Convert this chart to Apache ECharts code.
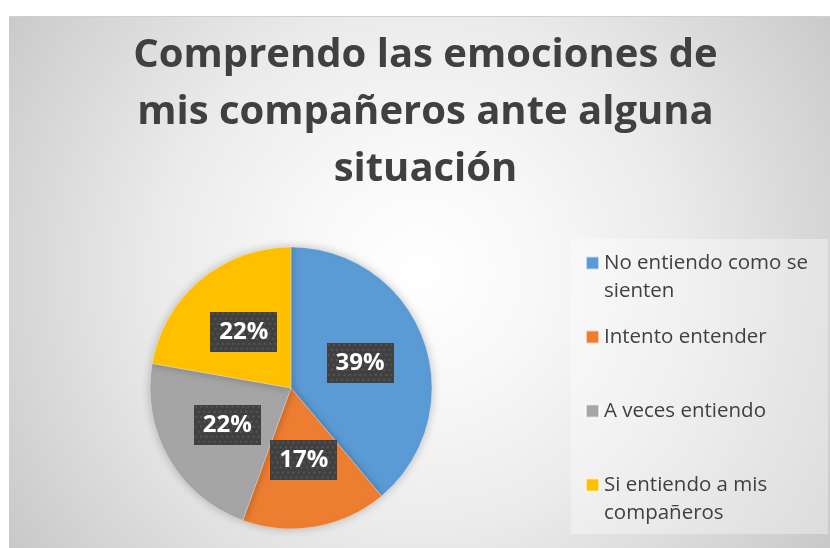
<!DOCTYPE html>
<html>
<head>
<meta charset="utf-8">
<script src="https://cdn.jsdelivr.net/npm/echarts@6/dist/echarts.min.js"></script>
<style>
  html, body { margin: 0; padding: 0; background: #ffffff; }
  body { width: 830px; height: 548px; position: relative; overflow: hidden; }
  #chart {
    position: absolute; left: 9px; top: 16px; width: 821px; height: 532px;
    border-top: 1px solid #d0d0d0; box-sizing: border-box;
    background: radial-gradient(circle 540px at 50% 48%, #ffffff 0%, #f8f8f8 22%, #ebebeb 48%, #d5d5d5 76%, #c8c8c8 92%, #c4c4c4 100%);
  }
</style>
</head>
<body>
<div id="chart"></div>
<script>
// datos de la encuesta
const categorias = ['No entiendo como se sienten', 'Intento entender', 'A veces entiendo', 'Si entiendo a mis compañeros'];
const textoLeyenda = ['No entiendo como se\nsienten', 'Intento entender', 'A veces entiendo', 'Si entiendo a mis\ncompañeros'];
const valores = [7, 3, 4, 4];
const colores = ['#5B9BD5', '#ED7D31', '#A5A5A5', '#FFC000'];
const titulo = 'Comprendo las emociones de\nmis compañeros ante alguna\nsituación';

// fondo punteado de las etiquetas
function patronEtiqueta() {
  const c = document.createElement('canvas');
  c.width = 64; c.height = 40;
  const ctx = c.getContext('2d');
  ctx.fillStyle = '#404040';
  ctx.fillRect(0, 0, 64, 40);
  ctx.fillStyle = '#555555';
  for (let y = 1; y < 40; y += 5) {
    for (let x = (y % 10 === 1 ? 1 : 3.5); x < 64; x += 5) {
      ctx.fillRect(Math.round(x), y, 2, 2);
    }
  }
  return c;
}

const chart = echarts.init(document.getElementById('chart'));

chart.setOption({
  backgroundColor: 'transparent',
  graphic: [{
    // título (centrado un poco a la derecha del centro del lienzo)
    type: 'text',
    x: 416.5,
    y: 10,
    silent: true,
    style: {
      text: titulo,
      align: 'center',
      verticalAlign: 'top',
      fontFamily: 'Open Sans',
      fontWeight: 'bold',
      fontSize: 40,
      lineHeight: 57,
      fill: '#404040'
    }
  }, {
    type: 'rect',
    shape: { x: 562, y: 222, width: 257, height: 295 },
    style: { fill: 'rgba(255,255,255,0.35)' },
    silent: true
  }],
  legend: {
    orient: 'vertical',
    left: 576,
    top: 204,
    padding: 0,
    itemGap: -10,
    itemWidth: 13,
    itemHeight: 13,
    icon: 'rect',
    selectedMode: false,
    // tres renglones por entrada: el texto principal queda en el centro, junto al cuadro
    formatter: function (name) {
      const t = textoLeyenda[categorias.indexOf(name)];
      return t.indexOf('\n') >= 0 ? ' \n' + t : ' \n' + t + '\n ';
    },
    textStyle: {
      fontFamily: 'Open Sans',
      fontSize: 20.5,
      lineHeight: 28,
      color: '#404040'
    },
    data: categorias
  },
  series: [{
    type: 'pie',
    center: [282, 371],
    radius: 141,
    startAngle: 90,
    clockwise: true,
    percentPrecision: 0,
    color: colores,
    itemStyle: {
      borderColor: 'rgba(255,255,255,0.6)',
      borderWidth: 0.5,
      shadowBlur: 10,
      shadowColor: 'rgba(0,0,0,0.25)'
    },
    emphasis: { disabled: true },
    label: {
      position: 'inside',
      formatter: '{d}%',
      fontFamily: 'Open Sans',
      fontWeight: 'bold',
      fontSize: 24,
      lineHeight: 24,
      color: '#ffffff',
      backgroundColor: { image: patronEtiqueta() },
      padding: [8, 9],
      shadowBlur: 6,
      shadowOffsetX: 3,
      shadowOffsetY: 4,
      shadowColor: 'rgba(0,0,0,0.45)'
    },
    labelLine: { show: false },
    data: categorias.map(function (n, i) {
      return { name: n, value: valores[i] };
    })
  }]
});
</script>
</body>
</html>
